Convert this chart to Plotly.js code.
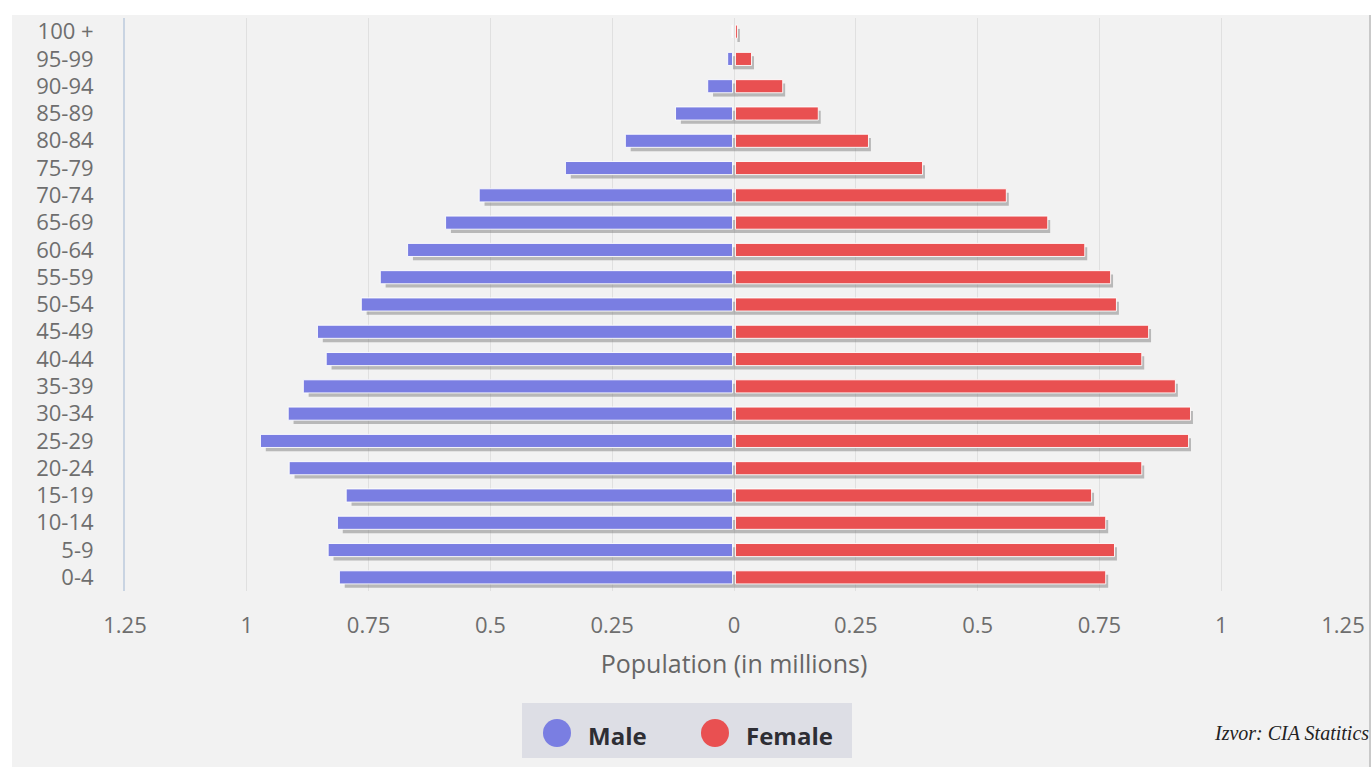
<!DOCTYPE html>
<html>
<head>
<meta charset="utf-8">
<script src="https://cdn.plot.ly/plotly-3.0.1.min.js"></script>
<style>
  html, body { margin: 0; padding: 0; background: #ffffff; }
  #bgpanel { position: absolute; left: 12px; top: 15px; width: 1357px; height: 752px; background: #f2f2f2; border-right: 2px solid #c9c9c9; }
  #chart { position: absolute; left: 0; top: 0; width: 1372px; height: 767px; }
</style>
</head>
<body>
<div id="bgpanel"></div>
<div id="chart"></div>
<script>
// Age groups (bottom to top)
const ageGroups = ["0-4","5-9","10-14","15-19","20-24","25-29","30-34","35-39","40-44","45-49",
                   "50-54","55-59","60-64","65-69","70-74","75-79","80-84","85-89","90-94","95-99","100 +"];
// Population in millions
const male   = [0.807,0.830,0.811,0.793,0.910,0.969,0.912,0.881,0.834,0.852,
                0.762,0.723,0.667,0.589,0.520,0.343,0.220,0.117,0.051,0.010,0.001];
const female = [0.760,0.778,0.760,0.731,0.834,0.930,0.934,0.903,0.834,0.848,
                0.782,0.770,0.717,0.641,0.556,0.384,0.273,0.170,0.097,0.033,0.004];
// Axis ticks
const tickVals  = [-1.25,-1,-0.75,-0.5,-0.25,0,0.25,0.5,0.75,1,1.25];
const tickTexts = ["1.25","1","0.75","0.5","0.25","0","0.25","0.5","0.75","1","1.25"];

const maleColor = "rgb(122,126,226)";
const femaleColor = "rgb(233,80,81)";
const shadowColor = "rgba(125,125,125,0.5)";
const barW = 0.48;

const maleNeg = male.map(v => -v);

const traces = [
  { type: "bar", orientation: "h", y: ageGroups, x: maleNeg, base: 0.008, width: barW, offset: -barW/2 - 0.14,
    marker: { color: shadowColor, line: { width: 0 } }, showlegend: false, hoverinfo: "skip" },
  { type: "bar", orientation: "h", y: ageGroups, x: female, base: 0.008, width: barW, offset: -barW/2 - 0.14,
    marker: { color: shadowColor, line: { width: 0 } }, showlegend: false, hoverinfo: "skip" },
  { type: "bar", orientation: "h", name: "Male", y: ageGroups, x: maleNeg, base: -0.003, width: barW,
    marker: { color: maleColor, line: { color: "rgba(255,255,255,0.9)", width: 1 } }, showlegend: false,
    customdata: male, hovertemplate: "%{y}: %{customdata}M<extra>Male</extra>" },
  { type: "bar", orientation: "h", name: "Female", y: ageGroups, x: female, base: 0.003, width: barW,
    marker: { color: femaleColor, line: { color: "rgba(255,255,255,0.9)", width: 1 } }, showlegend: false,
    hovertemplate: "%{y}: %{x}M<extra>Female</extra>" }
];

const plotLeft = 125, plotRight = 1343, plotTop = 18, plotBottom = 591;
const plotH = plotBottom - plotTop, plotW = plotRight - plotLeft;
const px2x = p => (p - plotLeft) / plotW;
const py2y = p => (plotBottom - p) / plotH;

const layout = {
  width: 1372, height: 767,
  paper_bgcolor: "rgba(0,0,0,0)", plot_bgcolor: "rgba(0,0,0,0)",
  margin: { l: plotLeft, r: 1372 - plotRight, t: plotTop, b: 767 - plotBottom },
  barmode: "overlay",
  font: { family: "Open Sans, sans-serif", color: "#6f6f6f" },
  xaxis: {
    range: [-1.25, 1.25], tickvals: tickVals, ticktext: tickTexts,
    showgrid: true, gridcolor: "rgba(0,0,0,0.07)", gridwidth: 1, zeroline: false,
    ticks: "", ticklabelstandoff: 19, tickfont: { size: 22, color: "#6e6e6e" },
    title: { text: "Population (in millions)", font: { size: 25, color: "#666666" }, standoff: 17 },
    fixedrange: true
  },
  yaxis: {
    type: "category", categoryorder: "array", categoryarray: ageGroups,
    range: [-0.5, ageGroups.length - 0.5],
    showgrid: false, zeroline: false, showline: true, linecolor: "#c9d4e2", linewidth: 2,
    ticks: "", ticklabelstandoff: 25, tickfont: { size: 22, color: "#6e6e6e" },
    fixedrange: true
  },
  shapes: [
    { type: "rect", xref: "paper", yref: "paper", x0: px2x(522), x1: px2x(852), y0: py2y(758), y1: py2y(703),
      fillcolor: "rgb(221,222,229)", line: { width: 0 }, layer: "above" },
    { type: "circle", xref: "paper", yref: "paper", x0: px2x(543), x1: px2x(571), y0: py2y(747), y1: py2y(719),
      fillcolor: maleColor, line: { width: 0 } },
    { type: "circle", xref: "paper", yref: "paper", x0: px2x(701), x1: px2x(729), y0: py2y(747), y1: py2y(719),
      fillcolor: femaleColor, line: { width: 0 } }
  ],
  annotations: [
    { text: "<b>Male</b>", xref: "paper", yref: "paper", x: px2x(586), y: py2y(735), xanchor: "left", yanchor: "middle",
      showarrow: false, font: { family: "Open Sans, sans-serif", size: 24, color: "#2e2e34" } },
    { text: "<b>Female</b>", xref: "paper", yref: "paper", x: px2x(744), y: py2y(735), xanchor: "left", yanchor: "middle",
      showarrow: false, font: { family: "Open Sans, sans-serif", size: 24, color: "#2e2e34" } },
    { text: "<i>Izvor: CIA Statitics</i>", xref: "paper", yref: "paper", x: px2x(1371), y: py2y(733), xanchor: "right", yanchor: "middle",
      showarrow: false, font: { family: "Liberation Serif, serif", size: 20, color: "#222222" } }
  ],
  showlegend: false
};

Plotly.newPlot("chart", traces, layout, { displayModeBar: false });
</script>
</body>
</html>
